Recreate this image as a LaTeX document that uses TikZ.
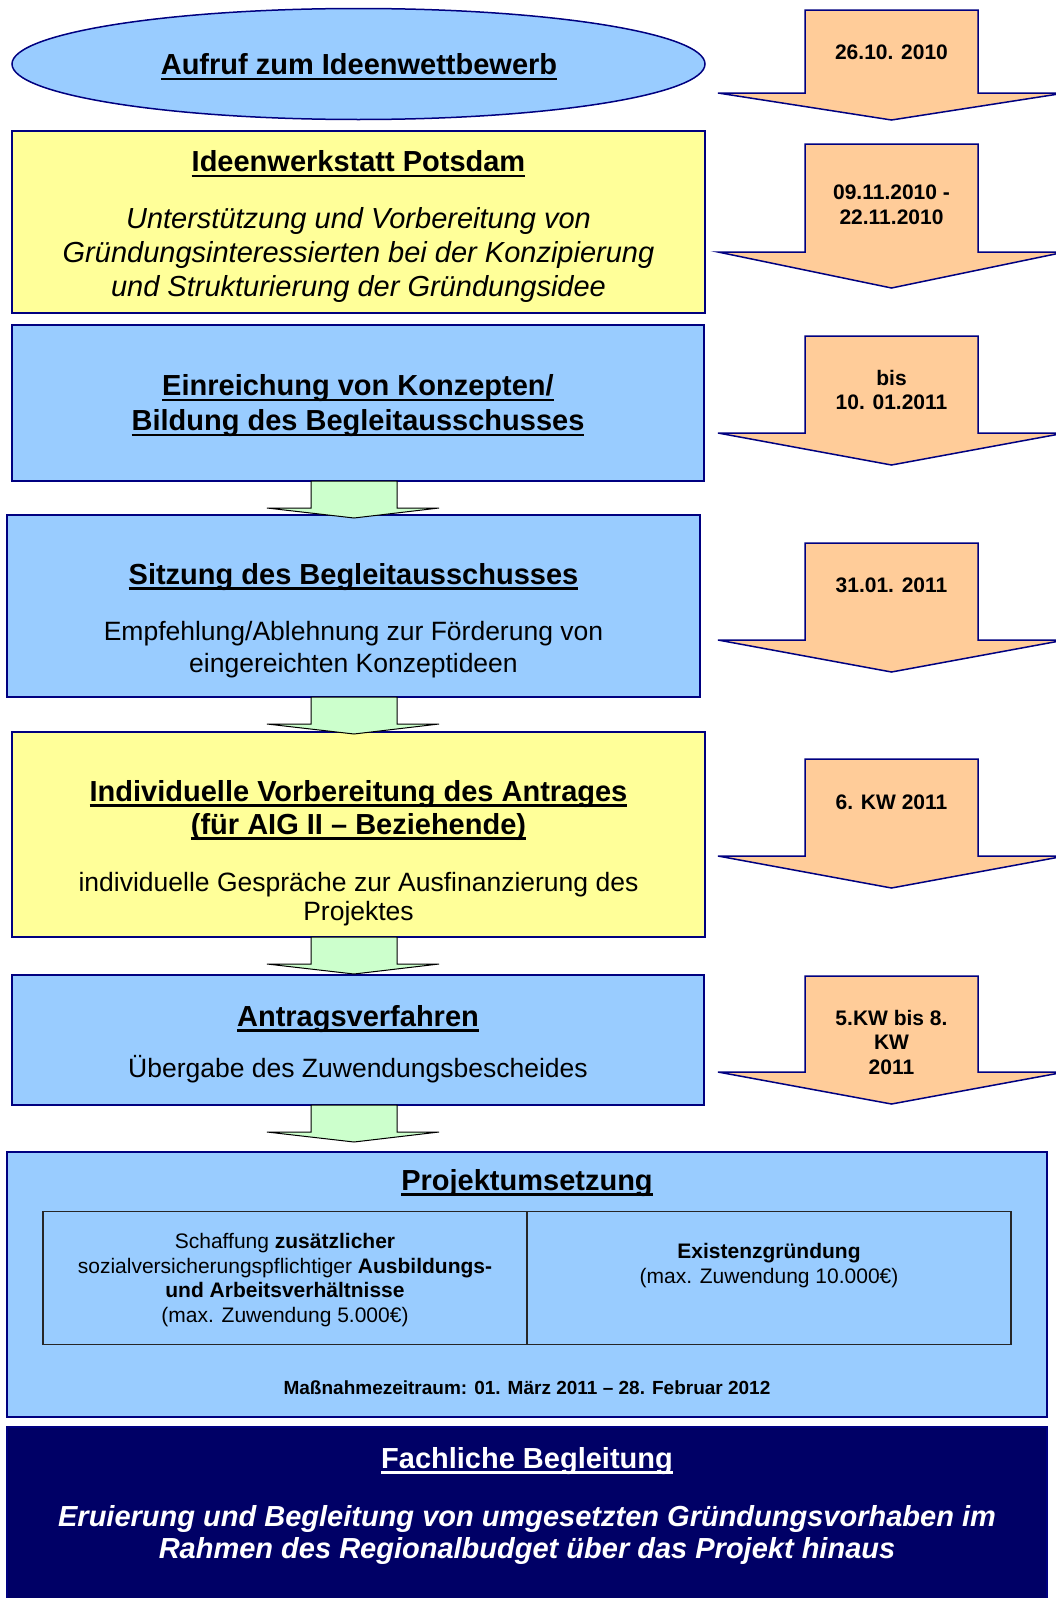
\documentclass[tikz,border=0pt]{standalone}
\usepackage{fontspec}
\setmainfont{Liberation Sans}
\usetikzlibrary{shapes.geometric}
\definecolor{navy}{RGB}{0,0,128}
\definecolor{bluefill}{HTML}{99CCFF}
\definecolor{yellowfill}{HTML}{FFFF99}
\definecolor{orangefill}{HTML}{FFCC99}
\definecolor{greenfill}{HTML}{CCFFCC}
\definecolor{darkfill}{RGB}{0,0,102}
\newcommand\myul[1]{\leavevmode\setbox0\hbox{#1}\rlap{\rule[-5.5pt]{\wd0}{2.6pt}}\box0}
\newcommand\orangearrow[3]{\draw[oarrow] (805,#1) -- (978,#1) -- (978,#2) -- (1065,#2) -- (891.5,#3) -- (718,#2) -- (805,#2) -- cycle;}
\newcommand\greenarrow[3]{\draw[garrow] (311,#1) -- (397,#1) -- (397,#2) -- (439,#2) -- (354,#3) -- (267,#2) -- (311,#2) -- cycle;}
\begin{document}
\begin{tikzpicture}[x=1pt,y=-1pt,
  bluebox/.style={rectangle, draw=navy, line width=2pt, fill=bluefill, inner sep=0pt},
  yellowbox/.style={rectangle, draw=navy, line width=2pt, fill=yellowfill, inner sep=0pt},
  head/.style={font=\fontsize{29}{34}\selectfont\bfseries, align=center, inner sep=0pt},
  body/.style={font=\fontsize{26.5}{31.5}\selectfont, align=center, inner sep=0pt},
  ibody/.style={font=\fontsize{29}{34}\selectfont\itshape, align=center, inner sep=0pt},
  datetxt/.style={font=\fontsize{21}{24.5}\selectfont\bfseries, align=center, inner sep=0pt},
  smalltxt/.style={font=\fontsize{21}{24.5}\selectfont, align=center, inner sep=0pt},
  oarrow/.style={fill=orangefill, draw=navy, line width=1.5pt, line join=miter},
  garrow/.style={fill=greenfill, draw=black, line width=1pt, line join=miter}]
\useasboundingbox (0,0) rectangle (1055,1598);

% left column boxes
\node[ellipse, draw=navy, line width=1.5pt, fill=bluefill, minimum width=693pt, minimum height=111pt, inner sep=0pt] (ell) at (358.5,64) {};
\node[head] (ellT) at (359,67) {\myul{Aufruf zum Ideenwettbewerb}};

\node[yellowbox, minimum width=693pt, minimum height=182pt] (y1) at (358.5,222) {};
\node[head] (y1H) at (358.5,164) {\myul{Ideenwerkstatt Potsdam}};
\node[ibody] (y1B) at (358.5,255) {Unterstützung und Vorbereitung von\\Gründungsinteressierten bei der Konzipierung\\und Strukturierung der Gründungsidee};

\node[bluebox, minimum width=692pt, minimum height=156pt] (b2) at (358,403) {};
\node[head, font=\fontsize{29}{35}\selectfont\bfseries] (b2H) at (358,406) {\myul{Einreichung von Konzepten/}\\\myul{Bildung des Begleitausschusses}};

\node[bluebox, minimum width=693pt, minimum height=182pt] (b3) at (353.5,606) {};
\node[head] (b3H) at (353.5,577) {\myul{Sitzung des Begleitausschusses}};
\node[body, font=\fontsize{26.5}{32}\selectfont] (b3B) at (353.5,650) {Empfehlung/Ablehnung zur Förderung von\\eingereichten Konzeptideen};

\node[yellowbox, minimum width=693pt, minimum height=205pt] (y4) at (358.5,834.5) {};
\node[head, font=\fontsize{29}{33}\selectfont\bfseries] (y4H) at (358.5,810) {\myul{Individuelle Vorbereitung des Antrages}\\\myul{(für AIG II – Beziehende)}};
\node[body, font=\fontsize{26.5}{29.5}\selectfont] (y4B) at (358.5,899) {individuelle Gespräche zur Ausfinanzierung des\\Projektes};

\node[bluebox, minimum width=692pt, minimum height=130pt] (b5) at (358,1040) {};
\node[head] (b5H) at (358,1019) {\myul{Antragsverfahren}};
\node[body] (b5B) at (358,1069) {Übergabe des Zuwendungsbescheides};

% green arrows between boxes
\greenarrow{481}{508}{518}
\greenarrow{697}{724}{734}
\greenarrow{937}{964}{974}
\greenarrow{1105}{1132}{1142}

% orange date arrows
\orangearrow{10}{93}{120}
\node[datetxt] (d1) at (891.5,52) {26.10. 2010};
\orangearrow{144}{252}{288}
\node[datetxt] (d2) at (891.5,205) {09.11.2010 -\\22.11.2010};
\orangearrow{336}{433}{465}
\node[datetxt] (d3) at (891.5,390) {bis\\10. 01.2011};
\orangearrow{543}{640}{672}
\node[datetxt] (d4) at (891.5,585) {31.01. 2011};
\orangearrow{759}{856}{888}
\node[datetxt] (d5) at (891.5,802) {6. KW 2011};
\orangearrow{976}{1072}{1104}
\node[datetxt] (d6) at (891.5,1042) {5.KW bis 8.\\KW\\2011};

% Projektumsetzung
\node[bluebox, minimum width=1040pt, minimum height=265pt] (pj) at (527,1284.5) {};
\node[head] (pjH) at (527,1183) {\myul{Projektumsetzung}};
\node[rectangle, draw=black!85, line width=1.3pt, minimum width=484pt, minimum height=133pt, inner sep=0pt] (tl) at (285,1278) {};
\node[rectangle, draw=black!85, line width=1.3pt, minimum width=484pt, minimum height=133pt, inner sep=0pt] (tr) at (769,1278) {};
\node[smalltxt] (tlT) at (285,1280) {Schaffung \textbf{zusätzlicher}\\sozialversicherungspflichtiger \textbf{Ausbildungs-}\\\textbf{und Arbeitsverhältnisse}\\(max. Zuwendung 5.000€)};
\node[smalltxt] (trT) at (769,1265.5) {\textbf{Existenzgründung}\\(max. Zuwendung 10.000€)};
\node[font=\fontsize{19}{22}\selectfont\bfseries, inner sep=0pt] (pjF) at (527,1388) {Maßnahmezeitraum: 01. März 2011 – 28. Februar 2012};

% Fachliche Begleitung
\node[rectangle, draw=navy, line width=2pt, fill=darkfill, minimum width=1040pt, minimum height=185pt, inner sep=0pt] (dk) at (527,1519.5) {};
\node[head, text=white] (dkH) at (527,1461) {\myul{Fachliche Begleitung}};
\node[head, text=white, font=\fontsize{29}{32}\selectfont\bfseries\itshape] (dkB) at (527,1535) {Eruierung und Begleitung von umgesetzten Gründungsvorhaben im\\Rahmen des Regionalbudget über das Projekt hinaus};
\end{tikzpicture}
\end{document}
